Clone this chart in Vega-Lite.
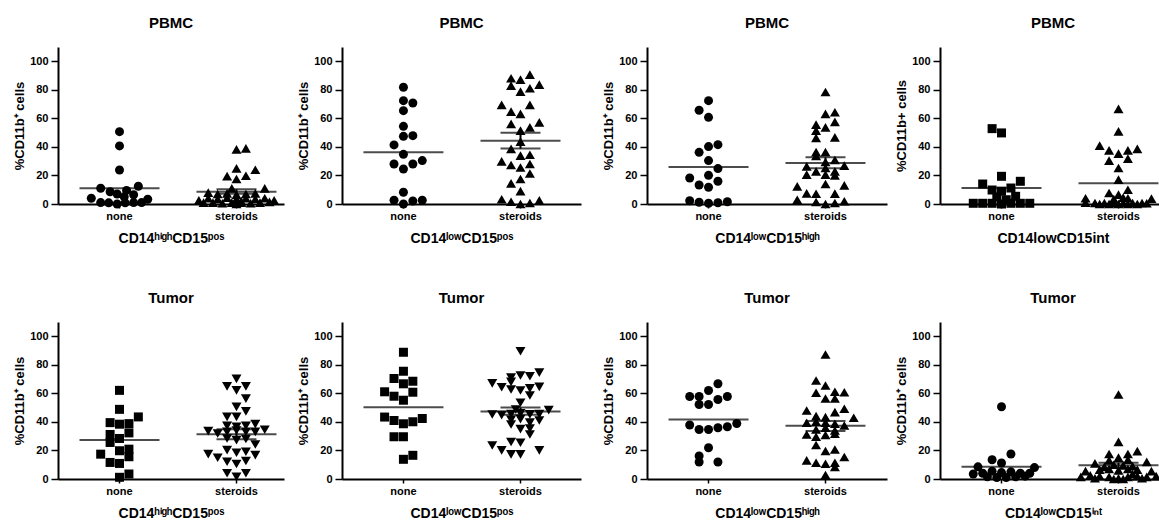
{
"$schema": "https://vega.github.io/schema/vega-lite/v6.json",
"padding": {"left": 13, "top": 16, "right": 0, "bottom": 0},
"config": {
  "view": {"stroke": null},
  "font": "Liberation Sans",
  "title": {"fontSize": 15, "font": "Liberation Sans", "fontWeight": "bold", "color": "black", "offset": 16, "anchor": "middle", "frame": "group"},
  "axis": {"domainColor": "black", "domainWidth": 2, "tickColor": "black", "tickWidth": 1.5, "labelFont": "Liberation Sans", "labelFontWeight": "bold", "labelColor": "black", "titleFont": "Liberation Sans", "titleColor": "black", "titleFontWeight": "bold", "grid": false, "labelOverlap": false},
  "axisX": {"labelAngle": 0, "labelFontSize": 11, "titleFontSize": 14, "tickSize": 4, "labelPadding": 2, "titlePadding": 10},
  "axisY": {"labelFontSize": 11, "titleFontSize": 13, "tickSize": 7, "labelPadding": 3, "titlePadding": 3, "tickCount": 6}
},
"datasets": {
"summ": [
{"panel":1,"group":"none","mean":11},{"panel":1,"group":"steroids","mean":8.6,"lo":7.1,"hi":10.3},
{"panel":2,"group":"none","mean":36.2},{"panel":2,"group":"steroids","mean":44.4,"lo":38.8,"hi":50},
{"panel":3,"group":"none","mean":25.9},{"panel":3,"group":"steroids","mean":28.8,"lo":25,"hi":32.7},
{"panel":4,"group":"none","mean":11.2},{"panel":4,"group":"steroids","mean":14.5},
{"panel":5,"group":"none","mean":27.4},{"panel":5,"group":"steroids","mean":31.4,"lo":27.9,"hi":34.9},
{"panel":6,"group":"none","mean":50.3},{"panel":6,"group":"steroids","mean":47.3,"lo":45,"hi":50.1},
{"panel":7,"group":"none","mean":41.7},{"panel":7,"group":"steroids","mean":37.3,"lo":33.6,"hi":40.6},
{"panel":8,"group":"none","mean":8.6},{"panel":8,"group":"steroids","mean":9.6,"lo":7.9,"hi":11.4}
],
"pts": [
{"panel":1,"group":"none","k":0,"value":50.7},{"panel":1,"group":"none","k":0,"value":40.7},{"panel":1,"group":"none","k":0,"value":23.8},{"panel":1,"group":"none","k":-4,"value":11},{"panel":1,"group":"none","k":4,"value":12.4},{"panel":1,"group":"none","k":-2,"value":8.6},{"panel":1,"group":"none","k":-0.5,"value":7},{"panel":1,"group":"none","k":1.5,"value":9.5},{"panel":1,"group":"none","k":1,"value":5},{"panel":1,"group":"none","k":3,"value":6.5},{"panel":1,"group":"none","k":-6,"value":4},{"panel":1,"group":"none","k":6,"value":3.3},{"panel":1,"group":"none","k":-4,"value":1},{"panel":1,"group":"none","k":-2.3,"value":0.8},{"panel":1,"group":"none","k":-0.5,"value":0},{"panel":1,"group":"none","k":1.2,"value":0.8},{"panel":1,"group":"none","k":3,"value":1},{"panel":1,"group":"none","k":4.7,"value":1},
{"panel":1,"group":"steroids","k":0,"value":38.3},{"panel":1,"group":"steroids","k":2,"value":39},{"panel":1,"group":"steroids","k":0,"value":25},{"panel":1,"group":"steroids","k":4,"value":24},{"panel":1,"group":"steroids","k":-2,"value":19.5},{"panel":1,"group":"steroids","k":2,"value":19.8},{"panel":1,"group":"steroids","k":0,"value":17.5},{"panel":1,"group":"steroids","k":-1,"value":11},{"panel":1,"group":"steroids","k":6,"value":11},{"panel":1,"group":"steroids","k":-6,"value":8},{"panel":1,"group":"steroids","k":-4,"value":7},{"panel":1,"group":"steroids","k":-2,"value":7.5},{"panel":1,"group":"steroids","k":0,"value":6.5},{"panel":1,"group":"steroids","k":2,"value":7},{"panel":1,"group":"steroids","k":4,"value":7.5},{"panel":1,"group":"steroids","k":-6,"value":4},{"panel":1,"group":"steroids","k":-4,"value":3.5},{"panel":1,"group":"steroids","k":-2,"value":4.5},{"panel":1,"group":"steroids","k":0,"value":3.5},{"panel":1,"group":"steroids","k":2,"value":4},{"panel":1,"group":"steroids","k":4,"value":3.5},{"panel":1,"group":"steroids","k":6,"value":4},{"panel":1,"group":"steroids","k":-7,"value":1},{"panel":1,"group":"steroids","k":-5,"value":1},{"panel":1,"group":"steroids","k":-3,"value":0.5},{"panel":1,"group":"steroids","k":-1,"value":1},{"panel":1,"group":"steroids","k":1,"value":1},{"panel":1,"group":"steroids","k":3,"value":0.5},{"panel":1,"group":"steroids","k":5,"value":1},{"panel":1,"group":"steroids","k":7,"value":1.5},{"panel":1,"group":"steroids","k":0,"value":0},{"panel":1,"group":"steroids","k":-8,"value":2.5},{"panel":1,"group":"steroids","k":8,"value":2.5},{"panel":1,"group":"steroids","k":1,"value":2},
{"panel":2,"group":"none","k":0,"value":81.8},{"panel":2,"group":"none","k":0,"value":72.4},{"panel":2,"group":"none","k":2,"value":70.8},{"panel":2,"group":"none","k":0,"value":65.4},{"panel":2,"group":"none","k":0,"value":54.4},{"panel":2,"group":"none","k":0,"value":47.4},{"panel":2,"group":"none","k":2,"value":47.9},{"panel":2,"group":"none","k":-2,"value":41.4},{"panel":2,"group":"none","k":0,"value":34.8},{"panel":2,"group":"none","k":-2,"value":28},{"panel":2,"group":"none","k":2,"value":28},{"panel":2,"group":"none","k":4,"value":30.4},{"panel":2,"group":"none","k":0,"value":24.5},{"panel":2,"group":"none","k":0,"value":8.2},{"panel":2,"group":"none","k":-2,"value":2.6},{"panel":2,"group":"none","k":2,"value":2.1},{"panel":2,"group":"none","k":4,"value":2.6},{"panel":2,"group":"none","k":0,"value":0},
{"panel":2,"group":"steroids","k":2,"value":90.7},{"panel":2,"group":"steroids","k":-2,"value":88.1},{"panel":2,"group":"steroids","k":0,"value":87.1},{"panel":2,"group":"steroids","k":4,"value":83.6},{"panel":2,"group":"steroids","k":-2,"value":82.9},{"panel":2,"group":"steroids","k":2,"value":81.1},{"panel":2,"group":"steroids","k":0,"value":78.7},{"panel":2,"group":"steroids","k":-4,"value":69.4},{"panel":2,"group":"steroids","k":2,"value":69.4},{"panel":2,"group":"steroids","k":-2,"value":64.7},{"panel":2,"group":"steroids","k":0,"value":63.1},{"panel":2,"group":"steroids","k":-2,"value":56.1},{"panel":2,"group":"steroids","k":4,"value":57.2},{"panel":2,"group":"steroids","k":2,"value":53.7},{"panel":2,"group":"steroids","k":0,"value":51.4},{"panel":2,"group":"steroids","k":0,"value":43.7},{"panel":2,"group":"steroids","k":-2,"value":38.6},{"panel":2,"group":"steroids","k":-4,"value":29.9},{"panel":2,"group":"steroids","k":-2,"value":27.3},{"panel":2,"group":"steroids","k":0,"value":33.9},{"panel":2,"group":"steroids","k":2,"value":34.5},{"panel":2,"group":"steroids","k":0,"value":25.6},{"panel":2,"group":"steroids","k":2,"value":28},{"panel":2,"group":"steroids","k":2,"value":21.4},{"panel":2,"group":"steroids","k":-2,"value":14.5},{"panel":2,"group":"steroids","k":0,"value":17.5},{"panel":2,"group":"steroids","k":0,"value":9},{"panel":2,"group":"steroids","k":-4,"value":3.3},{"panel":2,"group":"steroids","k":-2,"value":1.6},{"panel":2,"group":"steroids","k":0,"value":0},{"panel":2,"group":"steroids","k":2,"value":0.7},{"panel":2,"group":"steroids","k":4,"value":2.5},
{"panel":3,"group":"none","k":0,"value":72.4},{"panel":3,"group":"none","k":-2,"value":65.7},{"panel":3,"group":"none","k":0,"value":60.7},{"panel":3,"group":"none","k":2,"value":41.6},{"panel":3,"group":"none","k":0,"value":40.2},{"panel":3,"group":"none","k":-2,"value":36.2},{"panel":3,"group":"none","k":0,"value":30.4},{"panel":3,"group":"none","k":2,"value":24.8},{"panel":3,"group":"none","k":-4,"value":18.2},{"panel":3,"group":"none","k":0,"value":20.1},{"panel":3,"group":"none","k":2,"value":15.9},{"panel":3,"group":"none","k":-2,"value":13.3},{"panel":3,"group":"none","k":0,"value":11.7},{"panel":3,"group":"none","k":-4,"value":2.3},{"panel":3,"group":"none","k":-2,"value":1.2},{"panel":3,"group":"none","k":0,"value":0.5},{"panel":3,"group":"none","k":2,"value":0.9},{"panel":3,"group":"none","k":4,"value":1.6},
{"panel":3,"group":"steroids","k":0,"value":78.5},{"panel":3,"group":"steroids","k":0,"value":63.1},{"panel":3,"group":"steroids","k":2,"value":64.3},{"panel":3,"group":"steroids","k":-2,"value":55.6},{"panel":3,"group":"steroids","k":-2,"value":51.4},{"panel":3,"group":"steroids","k":0,"value":53.7},{"panel":3,"group":"steroids","k":2,"value":57.5},{"panel":3,"group":"steroids","k":-2,"value":46.3},{"panel":3,"group":"steroids","k":2,"value":46.7},{"panel":3,"group":"steroids","k":-2,"value":36.4},{"panel":3,"group":"steroids","k":0,"value":36.4},{"panel":3,"group":"steroids","k":-2,"value":33.6},{"panel":3,"group":"steroids","k":2,"value":30.8},{"panel":3,"group":"steroids","k":0,"value":29.4},{"panel":3,"group":"steroids","k":-4,"value":26.4},{"panel":3,"group":"steroids","k":4,"value":26.9},{"panel":3,"group":"steroids","k":-2,"value":22.9},{"panel":3,"group":"steroids","k":0,"value":25.2},{"panel":3,"group":"steroids","k":2,"value":22.9},{"panel":3,"group":"steroids","k":-4,"value":20.6},{"panel":3,"group":"steroids","k":0,"value":20.6},{"panel":3,"group":"steroids","k":2,"value":20},{"panel":3,"group":"steroids","k":-6,"value":12.4},{"panel":3,"group":"steroids","k":0,"value":14},{"panel":3,"group":"steroids","k":4,"value":13.1},{"panel":3,"group":"steroids","k":-4,"value":7.5},{"panel":3,"group":"steroids","k":-2,"value":7.2},{"panel":3,"group":"steroids","k":2,"value":7.3},{"panel":3,"group":"steroids","k":-6,"value":3},{"panel":3,"group":"steroids","k":-2,"value":1.4},{"panel":3,"group":"steroids","k":0,"value":0},{"panel":3,"group":"steroids","k":2,"value":0.7},{"panel":3,"group":"steroids","k":4,"value":1.9},
{"panel":4,"group":"none","k":-2,"value":52.8},{"panel":4,"group":"none","k":0,"value":49.8},{"panel":4,"group":"none","k":0,"value":19.4},{"panel":4,"group":"none","k":4,"value":15.9},{"panel":4,"group":"none","k":-4,"value":14},{"panel":4,"group":"none","k":-2,"value":9.8},{"panel":4,"group":"none","k":0,"value":9},{"panel":4,"group":"none","k":2,"value":11.2},{"panel":4,"group":"none","k":-1,"value":5},{"panel":4,"group":"none","k":1,"value":3},{"panel":4,"group":"none","k":3,"value":5.4},{"panel":4,"group":"none","k":-6,"value":0.5},{"panel":4,"group":"none","k":-4,"value":0.5},{"panel":4,"group":"none","k":-2,"value":0.5},{"panel":4,"group":"none","k":0,"value":0},{"panel":4,"group":"none","k":2,"value":0.5},{"panel":4,"group":"none","k":4,"value":0.5},{"panel":4,"group":"none","k":6,"value":0.5},
{"panel":4,"group":"steroids","k":0,"value":66.6},{"panel":4,"group":"steroids","k":0,"value":50.9},{"panel":4,"group":"steroids","k":-4,"value":40.9},{"panel":4,"group":"steroids","k":-2,"value":37.6},{"panel":4,"group":"steroids","k":0,"value":35.3},{"panel":4,"group":"steroids","k":2,"value":37.6},{"panel":4,"group":"steroids","k":4,"value":38.6},{"panel":4,"group":"steroids","k":-2,"value":30.4},{"panel":4,"group":"steroids","k":2,"value":31.8},{"panel":4,"group":"steroids","k":0,"value":25.2},{"panel":4,"group":"steroids","k":0,"value":17.1},{"panel":4,"group":"steroids","k":-2,"value":7.7},{"panel":4,"group":"steroids","k":0,"value":6.6},{"panel":4,"group":"steroids","k":2,"value":10},{"panel":4,"group":"steroids","k":2,"value":4},{"panel":4,"group":"steroids","k":-1,"value":3.5},{"panel":4,"group":"steroids","k":1,"value":4.5},{"panel":4,"group":"steroids","k":-7,"value":4},{"panel":4,"group":"steroids","k":7,"value":3.8},{"panel":4,"group":"steroids","k":-5,"value":0.7},{"panel":4,"group":"steroids","k":-3,"value":0.7},{"panel":4,"group":"steroids","k":-1,"value":0.7},{"panel":4,"group":"steroids","k":1,"value":0.7},{"panel":4,"group":"steroids","k":3,"value":0.7},{"panel":4,"group":"steroids","k":5,"value":0.7},{"panel":4,"group":"steroids","k":-4,"value":0},{"panel":4,"group":"steroids","k":0,"value":0},{"panel":4,"group":"steroids","k":4,"value":0},{"panel":4,"group":"steroids","k":6,"value":0.5},{"panel":4,"group":"steroids","k":-2,"value":0},{"panel":4,"group":"steroids","k":2,"value":0},{"panel":4,"group":"steroids","k":-7,"value":1},
{"panel":5,"group":"none","k":0,"value":62.1},{"panel":5,"group":"none","k":0,"value":48.8},{"panel":5,"group":"none","k":4,"value":43.5},{"panel":5,"group":"none","k":-2,"value":39.5},{"panel":5,"group":"none","k":2,"value":38.8},{"panel":5,"group":"none","k":0,"value":38.4},{"panel":5,"group":"none","k":2,"value":32.3},{"panel":5,"group":"none","k":-2,"value":31.2},{"panel":5,"group":"none","k":0,"value":28.4},{"panel":5,"group":"none","k":-2,"value":25.6},{"panel":5,"group":"none","k":-4,"value":17.4},{"panel":5,"group":"none","k":0,"value":19.8},{"panel":5,"group":"none","k":2,"value":20.9},{"panel":5,"group":"none","k":2,"value":15.6},{"panel":5,"group":"none","k":-2,"value":11.6},{"panel":5,"group":"none","k":0,"value":10.9},{"panel":5,"group":"none","k":2,"value":3.5},{"panel":5,"group":"none","k":0,"value":1.2},
{"panel":5,"group":"steroids","k":0,"value":70.2},{"panel":5,"group":"steroids","k":-2,"value":64.9},{"panel":5,"group":"steroids","k":2,"value":64.9},{"panel":5,"group":"steroids","k":0,"value":62.1},{"panel":5,"group":"steroids","k":2,"value":56.3},{"panel":5,"group":"steroids","k":0,"value":50.5},{"panel":5,"group":"steroids","k":2,"value":47.4},{"panel":5,"group":"steroids","k":-2,"value":43.5},{"panel":5,"group":"steroids","k":0,"value":43.5},{"panel":5,"group":"steroids","k":4,"value":38.4},{"panel":5,"group":"steroids","k":-2,"value":37.2},{"panel":5,"group":"steroids","k":2,"value":37.2},{"panel":5,"group":"steroids","k":0,"value":36.5},{"panel":5,"group":"steroids","k":-6,"value":33.5},{"panel":5,"group":"steroids","k":-2,"value":33},{"panel":5,"group":"steroids","k":0,"value":34},{"panel":5,"group":"steroids","k":2,"value":33},{"panel":5,"group":"steroids","k":4,"value":33},{"panel":5,"group":"steroids","k":6,"value":34.5},{"panel":5,"group":"steroids","k":-4,"value":31.9},{"panel":5,"group":"steroids","k":-2,"value":28.4},{"panel":5,"group":"steroids","k":0,"value":27.2},{"panel":5,"group":"steroids","k":2,"value":28},{"panel":5,"group":"steroids","k":4,"value":24.2},{"panel":5,"group":"steroids","k":-6,"value":17.4},{"panel":5,"group":"steroids","k":-4,"value":14.9},{"panel":5,"group":"steroids","k":-2,"value":20.2},{"panel":5,"group":"steroids","k":0,"value":18.4},{"panel":5,"group":"steroids","k":2,"value":19.1},{"panel":5,"group":"steroids","k":4,"value":16.7},{"panel":5,"group":"steroids","k":-2,"value":12.1},{"panel":5,"group":"steroids","k":0,"value":10.5},{"panel":5,"group":"steroids","k":2,"value":12.6},{"panel":5,"group":"steroids","k":-2,"value":4},{"panel":5,"group":"steroids","k":2,"value":4},{"panel":5,"group":"steroids","k":0,"value":1.6},
{"panel":6,"group":"none","k":0,"value":88.8},{"panel":6,"group":"none","k":0,"value":75.5},{"panel":6,"group":"none","k":-2,"value":70.4},{"panel":6,"group":"none","k":2,"value":68.5},{"panel":6,"group":"none","k":0,"value":66.7},{"panel":6,"group":"none","k":-4,"value":61.1},{"panel":6,"group":"none","k":2,"value":60.8},{"panel":6,"group":"none","k":-2,"value":58},{"panel":6,"group":"none","k":0,"value":55.2},{"panel":6,"group":"none","k":-4,"value":43.4},{"panel":6,"group":"none","k":4,"value":42.4},{"panel":6,"group":"none","k":-2,"value":41},{"panel":6,"group":"none","k":2,"value":40.1},{"panel":6,"group":"none","k":0,"value":38.7},{"panel":6,"group":"none","k":-2,"value":29.6},{"panel":6,"group":"none","k":0,"value":29.6},{"panel":6,"group":"none","k":2,"value":16.6},{"panel":6,"group":"none","k":0,"value":13.8},
{"panel":6,"group":"steroids","k":0,"value":89.5},{"panel":6,"group":"steroids","k":-2,"value":71},{"panel":6,"group":"steroids","k":0,"value":72.5},{"panel":6,"group":"steroids","k":2,"value":72},{"panel":6,"group":"steroids","k":4,"value":74.5},{"panel":6,"group":"steroids","k":-6,"value":67},{"panel":6,"group":"steroids","k":-2,"value":68},{"panel":6,"group":"steroids","k":-4,"value":64.3},{"panel":6,"group":"steroids","k":4,"value":64.6},{"panel":6,"group":"steroids","k":-2,"value":62.7},{"panel":6,"group":"steroids","k":0,"value":62},{"panel":6,"group":"steroids","k":2,"value":63.5},{"panel":6,"group":"steroids","k":2,"value":58.5},{"panel":6,"group":"steroids","k":0,"value":53.4},{"panel":6,"group":"steroids","k":-1,"value":48.7},{"panel":6,"group":"steroids","k":6,"value":48.3},{"panel":6,"group":"steroids","k":-6,"value":45.2},{"panel":6,"group":"steroids","k":-4,"value":44.8},{"panel":6,"group":"steroids","k":-2,"value":45.5},{"panel":6,"group":"steroids","k":0,"value":46},{"panel":6,"group":"steroids","k":2,"value":45.3},{"panel":6,"group":"steroids","k":4,"value":45.5},{"panel":6,"group":"steroids","k":-2,"value":41.5},{"panel":6,"group":"steroids","k":0,"value":42},{"panel":6,"group":"steroids","k":4,"value":41},{"panel":6,"group":"steroids","k":-2,"value":38.2},{"panel":6,"group":"steroids","k":2,"value":39.5},{"panel":6,"group":"steroids","k":0,"value":35},{"panel":6,"group":"steroids","k":2,"value":35.4},{"panel":6,"group":"steroids","k":2,"value":31.2},{"panel":6,"group":"steroids","k":-6,"value":23.5},{"panel":6,"group":"steroids","k":-2,"value":25.9},{"panel":6,"group":"steroids","k":0,"value":25.4},{"panel":6,"group":"steroids","k":-4,"value":20},{"panel":6,"group":"steroids","k":-2,"value":17.2},{"panel":6,"group":"steroids","k":0,"value":17.2},{"panel":6,"group":"steroids","k":4,"value":20},
{"panel":7,"group":"none","k":2,"value":66.7},{"panel":7,"group":"none","k":0,"value":62},{"panel":7,"group":"none","k":-4,"value":57.8},{"panel":7,"group":"none","k":-2,"value":57.8},{"panel":7,"group":"none","k":4,"value":57.8},{"panel":7,"group":"none","k":2,"value":55.7},{"panel":7,"group":"none","k":-2,"value":52.2},{"panel":7,"group":"none","k":0,"value":52.2},{"panel":7,"group":"none","k":6,"value":38.9},{"panel":7,"group":"none","k":-4,"value":37.8},{"panel":7,"group":"none","k":-2,"value":34.7},{"panel":7,"group":"none","k":0,"value":34.7},{"panel":7,"group":"none","k":2,"value":35.9},{"panel":7,"group":"none","k":4,"value":36.6},{"panel":7,"group":"none","k":0,"value":21.9},{"panel":7,"group":"none","k":-2,"value":16.1},{"panel":7,"group":"none","k":-2,"value":11.9},{"panel":7,"group":"none","k":2,"value":11.9},
{"panel":7,"group":"steroids","k":0,"value":87.2},{"panel":7,"group":"steroids","k":-2,"value":69},{"panel":7,"group":"steroids","k":0,"value":65.5},{"panel":7,"group":"steroids","k":-2,"value":60.4},{"panel":7,"group":"steroids","k":2,"value":61.1},{"panel":7,"group":"steroids","k":4,"value":60.8},{"panel":7,"group":"steroids","k":0,"value":56.4},{"panel":7,"group":"steroids","k":2,"value":56.4},{"panel":7,"group":"steroids","k":-4,"value":48},{"panel":7,"group":"steroids","k":4,"value":49.2},{"panel":7,"group":"steroids","k":2,"value":46.9},{"panel":7,"group":"steroids","k":-2,"value":44},{"panel":7,"group":"steroids","k":0,"value":43.4},{"panel":7,"group":"steroids","k":6,"value":42.9},{"panel":7,"group":"steroids","k":-4,"value":39.4},{"panel":7,"group":"steroids","k":-2,"value":40.1},{"panel":7,"group":"steroids","k":0,"value":39.4},{"panel":7,"group":"steroids","k":2,"value":38.7},{"panel":7,"group":"steroids","k":4,"value":37.5},{"panel":7,"group":"steroids","k":-2,"value":34.7},{"panel":7,"group":"steroids","k":0,"value":35.9},{"panel":7,"group":"steroids","k":2,"value":34},{"panel":7,"group":"steroids","k":-4,"value":31.2},{"panel":7,"group":"steroids","k":-2,"value":29.6},{"panel":7,"group":"steroids","k":0,"value":30.8},{"panel":7,"group":"steroids","k":2,"value":31.7},{"panel":7,"group":"steroids","k":-2,"value":23.8},{"panel":7,"group":"steroids","k":0,"value":19.6},{"panel":7,"group":"steroids","k":2,"value":20.7},{"panel":7,"group":"steroids","k":-4,"value":13.1},{"panel":7,"group":"steroids","k":-2,"value":11.4},{"panel":7,"group":"steroids","k":0,"value":10.7},{"panel":7,"group":"steroids","k":2,"value":11.4},{"panel":7,"group":"steroids","k":4,"value":15.4},{"panel":7,"group":"steroids","k":2,"value":8.4},{"panel":7,"group":"steroids","k":0,"value":2.8},
{"panel":8,"group":"none","k":0,"value":50.6},{"panel":8,"group":"none","k":2,"value":17.5},{"panel":8,"group":"none","k":-2,"value":13.5},{"panel":8,"group":"none","k":0,"value":11.2},{"panel":8,"group":"none","k":-5,"value":8.5},{"panel":8,"group":"none","k":7,"value":8},{"panel":8,"group":"none","k":-4,"value":4},{"panel":8,"group":"none","k":-2,"value":5.5},{"panel":8,"group":"none","k":0,"value":4.5},{"panel":8,"group":"none","k":2,"value":5},{"panel":8,"group":"none","k":4,"value":4},{"panel":8,"group":"none","k":6,"value":4},{"panel":8,"group":"none","k":-6,"value":3.5},{"panel":8,"group":"none","k":-3,"value":1.5},{"panel":8,"group":"none","k":-1,"value":1},{"panel":8,"group":"none","k":1,"value":1},{"panel":8,"group":"none","k":3,"value":1.5},{"panel":8,"group":"none","k":5,"value":2},
{"panel":8,"group":"steroids","k":0,"value":59.2},{"panel":8,"group":"steroids","k":0,"value":26},{"panel":8,"group":"steroids","k":-2,"value":17.5},{"panel":8,"group":"steroids","k":2,"value":17.5},{"panel":8,"group":"steroids","k":4,"value":19.5},{"panel":8,"group":"steroids","k":0,"value":15},{"panel":8,"group":"steroids","k":-2,"value":13},{"panel":8,"group":"steroids","k":2,"value":13.5},{"panel":8,"group":"steroids","k":-5,"value":11},{"panel":8,"group":"steroids","k":6,"value":12},{"panel":8,"group":"steroids","k":-1,"value":10},{"panel":8,"group":"steroids","k":1,"value":9.5},{"panel":8,"group":"steroids","k":3,"value":9},{"panel":8,"group":"steroids","k":-3,"value":8.5},{"panel":8,"group":"steroids","k":-7,"value":5.5},{"panel":8,"group":"steroids","k":7,"value":5.5},{"panel":8,"group":"steroids","k":-4,"value":6.5},{"panel":8,"group":"steroids","k":-2,"value":7},{"panel":8,"group":"steroids","k":0,"value":6},{"panel":8,"group":"steroids","k":2,"value":7},{"panel":8,"group":"steroids","k":4,"value":6.5},{"panel":8,"group":"steroids","k":-6,"value":2.5},{"panel":8,"group":"steroids","k":-8,"value":1.5},{"panel":8,"group":"steroids","k":-4,"value":2},{"panel":8,"group":"steroids","k":-2,"value":1.5},{"panel":8,"group":"steroids","k":0,"value":0.5},{"panel":8,"group":"steroids","k":2,"value":1.5},{"panel":8,"group":"steroids","k":4,"value":2},{"panel":8,"group":"steroids","k":6,"value":1.5},{"panel":8,"group":"steroids","k":8,"value":2},{"panel":8,"group":"steroids","k":-5,"value":0.5},{"panel":8,"group":"steroids","k":-1,"value":0},{"panel":8,"group":"steroids","k":1,"value":0},{"panel":8,"group":"steroids","k":5,"value":0.5},{"panel":8,"group":"steroids","k":3,"value":3.5}
]
},
"spacing": 13,
"hconcat": [
{"vconcat": [
 {"width": 226, "height": 157, "title": "PBMC", "layer": [
  {"data": {"name": "pts"}, "transform": [{"filter": "datum.panel == 1"}], "mark": {"type": "point", "filled": true, "color": "black", "opacity": 1, "strokeWidth": 0},
   "encoding": {"x": {"field": "group", "type": "nominal", "scale": {"domain": ["none", "steroids"], "paddingInner": 0.3, "paddingOuter": 0.116, "align": 0.758}, "axis": {"title": "CD14ʰⁱᵍʰCD15ᵖᵒˢ"}},
    "xOffset": {"field": "k", "type": "quantitative", "scale": {"domain": [-8.7, 8.7], "nice": false, "zero": false}},
    "y": {"field": "value", "type": "quantitative", "scale": {"domain": [0, 110], "nice": false}, "axis": {"title": "%CD11b⁺ cells", "values": [0, 20, 40, 60, 80, 100]}},
    "shape": {"condition": {"test": "datum.group == 'none'", "value": "circle"}, "value": "triangle-up"},
    "size": {"condition": {"test": "datum.group == 'none'", "value": 81}, "value": 100}}},
  {"data": {"name": "summ"}, "transform": [{"filter": "datum.panel == 1"}], "mark": {"type": "tick", "size": 80, "thickness": 2, "color": "black"}, "encoding": {"x": {"field": "group", "type": "nominal", "axis": {"title": "CD14ʰⁱᵍʰCD15ᵖᵒˢ"}}, "y": {"field": "mean", "type": "quantitative", "axis": {"title": "%CD11b⁺ cells", "values": [0, 20, 40, 60, 80, 100]}}}},
  {"data": {"name": "summ"}, "transform": [{"filter": "datum.panel == 1 && isValid(datum.lo)"}], "mark": {"type": "rule", "strokeWidth": 2, "color": "black"}, "encoding": {"x": {"field": "group", "type": "nominal", "axis": {"title": "CD14ʰⁱᵍʰCD15ᵖᵒˢ"}}, "y": {"field": "lo", "type": "quantitative", "axis": {"title": "%CD11b⁺ cells", "values": [0, 20, 40, 60, 80, 100]}}, "y2": {"field": "hi"}}},
  {"data": {"name": "summ"}, "transform": [{"filter": "datum.panel == 1 && isValid(datum.lo)"}], "mark": {"type": "tick", "size": 40, "thickness": 2, "color": "black"}, "encoding": {"x": {"field": "group", "type": "nominal", "axis": {"title": "CD14ʰⁱᵍʰCD15ᵖᵒˢ"}}, "y": {"field": "lo", "type": "quantitative", "axis": {"title": "%CD11b⁺ cells", "values": [0, 20, 40, 60, 80, 100]}}}},
  {"data": {"name": "summ"}, "transform": [{"filter": "datum.panel == 1 && isValid(datum.lo)"}], "mark": {"type": "tick", "size": 40, "thickness": 2, "color": "black"}, "encoding": {"x": {"field": "group", "type": "nominal", "axis": {"title": "CD14ʰⁱᵍʰCD15ᵖᵒˢ"}}, "y": {"field": "hi", "type": "quantitative", "axis": {"title": "%CD11b⁺ cells", "values": [0, 20, 40, 60, 80, 100]}}}}
 ]},
 {"width": 226, "height": 157, "title": "Tumor", "layer": [
  {"data": {"name": "pts"}, "transform": [{"filter": "datum.panel == 5"}], "mark": {"type": "point", "filled": true, "color": "black", "opacity": 1, "strokeWidth": 0},
   "encoding": {"x": {"field": "group", "type": "nominal", "scale": {"domain": ["none", "steroids"], "paddingInner": 0.3, "paddingOuter": 0.116, "align": 0.758}, "axis": {"title": "CD14ʰⁱᵍʰCD15ᵖᵒˢ"}},
    "xOffset": {"field": "k", "type": "quantitative", "scale": {"domain": [-8.7, 8.7], "nice": false, "zero": false}},
    "y": {"field": "value", "type": "quantitative", "scale": {"domain": [0, 110], "nice": false}, "axis": {"title": "%CD11b⁺ cells", "values": [0, 20, 40, 60, 80, 100]}},
    "shape": {"condition": {"test": "datum.group == 'none'", "value": "square"}, "value": "triangle-down"},
    "size": {"condition": {"test": "datum.group == 'none'", "value": 81}, "value": 100}}},
  {"data": {"name": "summ"}, "transform": [{"filter": "datum.panel == 5"}], "mark": {"type": "tick", "size": 80, "thickness": 2, "color": "black"}, "encoding": {"x": {"field": "group", "type": "nominal", "axis": {"title": "CD14ʰⁱᵍʰCD15ᵖᵒˢ"}}, "y": {"field": "mean", "type": "quantitative", "axis": {"title": "%CD11b⁺ cells", "values": [0, 20, 40, 60, 80, 100]}}}},
  {"data": {"name": "summ"}, "transform": [{"filter": "datum.panel == 5 && isValid(datum.lo)"}], "mark": {"type": "rule", "strokeWidth": 2, "color": "black"}, "encoding": {"x": {"field": "group", "type": "nominal", "axis": {"title": "CD14ʰⁱᵍʰCD15ᵖᵒˢ"}}, "y": {"field": "lo", "type": "quantitative", "axis": {"title": "%CD11b⁺ cells", "values": [0, 20, 40, 60, 80, 100]}}, "y2": {"field": "hi"}}},
  {"data": {"name": "summ"}, "transform": [{"filter": "datum.panel == 5 && isValid(datum.lo)"}], "mark": {"type": "tick", "size": 40, "thickness": 2, "color": "black"}, "encoding": {"x": {"field": "group", "type": "nominal", "axis": {"title": "CD14ʰⁱᵍʰCD15ᵖᵒˢ"}}, "y": {"field": "lo", "type": "quantitative", "axis": {"title": "%CD11b⁺ cells", "values": [0, 20, 40, 60, 80, 100]}}}},
  {"data": {"name": "summ"}, "transform": [{"filter": "datum.panel == 5 && isValid(datum.lo)"}], "mark": {"type": "tick", "size": 40, "thickness": 2, "color": "black"}, "encoding": {"x": {"field": "group", "type": "nominal", "axis": {"title": "CD14ʰⁱᵍʰCD15ᵖᵒˢ"}}, "y": {"field": "hi", "type": "quantitative", "axis": {"title": "%CD11b⁺ cells", "values": [0, 20, 40, 60, 80, 100]}}}}
 ]}
], "spacing": 46},
{"spacing": 21, "hconcat": [
{"vconcat": [
 {"width": 239, "height": 157, "title": "PBMC", "layer": [
  {"data": {"name": "pts"}, "transform": [{"filter": "datum.panel == 2"}], "mark": {"type": "point", "filled": true, "color": "black", "opacity": 1, "strokeWidth": 0},
   "encoding": {"x": {"field": "group", "type": "nominal", "scale": {"domain": ["none", "steroids"], "paddingInner": 0.3, "paddingOuter": 0.171, "align": 0.512}, "axis": {"title": "CD14ˡᵒʷCD15ᵖᵒˢ"}},
    "xOffset": {"field": "k", "type": "quantitative", "scale": {"domain": [-8.7, 8.7], "nice": false, "zero": false}},
    "y": {"field": "value", "type": "quantitative", "scale": {"domain": [0, 110], "nice": false}, "axis": {"title": "%CD11b⁺ cells", "values": [0, 20, 40, 60, 80, 100]}},
    "shape": {"condition": {"test": "datum.group == 'none'", "value": "circle"}, "value": "triangle-up"},
    "size": {"condition": {"test": "datum.group == 'none'", "value": 81}, "value": 100}}},
  {"data": {"name": "summ"}, "transform": [{"filter": "datum.panel == 2"}], "mark": {"type": "tick", "size": 80, "thickness": 2, "color": "black"}, "encoding": {"x": {"field": "group", "type": "nominal", "axis": {"title": "CD14ˡᵒʷCD15ᵖᵒˢ"}}, "y": {"field": "mean", "type": "quantitative", "axis": {"title": "%CD11b⁺ cells", "values": [0, 20, 40, 60, 80, 100]}}}},
  {"data": {"name": "summ"}, "transform": [{"filter": "datum.panel == 2 && isValid(datum.lo)"}], "mark": {"type": "rule", "strokeWidth": 2, "color": "black"}, "encoding": {"x": {"field": "group", "type": "nominal", "axis": {"title": "CD14ˡᵒʷCD15ᵖᵒˢ"}}, "y": {"field": "lo", "type": "quantitative", "axis": {"title": "%CD11b⁺ cells", "values": [0, 20, 40, 60, 80, 100]}}, "y2": {"field": "hi"}}},
  {"data": {"name": "summ"}, "transform": [{"filter": "datum.panel == 2 && isValid(datum.lo)"}], "mark": {"type": "tick", "size": 40, "thickness": 2, "color": "black"}, "encoding": {"x": {"field": "group", "type": "nominal", "axis": {"title": "CD14ˡᵒʷCD15ᵖᵒˢ"}}, "y": {"field": "lo", "type": "quantitative", "axis": {"title": "%CD11b⁺ cells", "values": [0, 20, 40, 60, 80, 100]}}}},
  {"data": {"name": "summ"}, "transform": [{"filter": "datum.panel == 2 && isValid(datum.lo)"}], "mark": {"type": "tick", "size": 40, "thickness": 2, "color": "black"}, "encoding": {"x": {"field": "group", "type": "nominal", "axis": {"title": "CD14ˡᵒʷCD15ᵖᵒˢ"}}, "y": {"field": "hi", "type": "quantitative", "axis": {"title": "%CD11b⁺ cells", "values": [0, 20, 40, 60, 80, 100]}}}}
 ]},
 {"width": 239, "height": 157, "title": "Tumor", "layer": [
  {"data": {"name": "pts"}, "transform": [{"filter": "datum.panel == 6"}], "mark": {"type": "point", "filled": true, "color": "black", "opacity": 1, "strokeWidth": 0},
   "encoding": {"x": {"field": "group", "type": "nominal", "scale": {"domain": ["none", "steroids"], "paddingInner": 0.3, "paddingOuter": 0.171, "align": 0.512}, "axis": {"title": "CD14ˡᵒʷCD15ᵖᵒˢ"}},
    "xOffset": {"field": "k", "type": "quantitative", "scale": {"domain": [-8.7, 8.7], "nice": false, "zero": false}},
    "y": {"field": "value", "type": "quantitative", "scale": {"domain": [0, 110], "nice": false}, "axis": {"title": "%CD11b⁺ cells", "values": [0, 20, 40, 60, 80, 100]}},
    "shape": {"condition": {"test": "datum.group == 'none'", "value": "square"}, "value": "triangle-down"},
    "size": {"condition": {"test": "datum.group == 'none'", "value": 81}, "value": 100}}},
  {"data": {"name": "summ"}, "transform": [{"filter": "datum.panel == 6"}], "mark": {"type": "tick", "size": 80, "thickness": 2, "color": "black"}, "encoding": {"x": {"field": "group", "type": "nominal", "axis": {"title": "CD14ˡᵒʷCD15ᵖᵒˢ"}}, "y": {"field": "mean", "type": "quantitative", "axis": {"title": "%CD11b⁺ cells", "values": [0, 20, 40, 60, 80, 100]}}}},
  {"data": {"name": "summ"}, "transform": [{"filter": "datum.panel == 6 && isValid(datum.lo)"}], "mark": {"type": "rule", "strokeWidth": 2, "color": "black"}, "encoding": {"x": {"field": "group", "type": "nominal", "axis": {"title": "CD14ˡᵒʷCD15ᵖᵒˢ"}}, "y": {"field": "lo", "type": "quantitative", "axis": {"title": "%CD11b⁺ cells", "values": [0, 20, 40, 60, 80, 100]}}, "y2": {"field": "hi"}}},
  {"data": {"name": "summ"}, "transform": [{"filter": "datum.panel == 6 && isValid(datum.lo)"}], "mark": {"type": "tick", "size": 40, "thickness": 2, "color": "black"}, "encoding": {"x": {"field": "group", "type": "nominal", "axis": {"title": "CD14ˡᵒʷCD15ᵖᵒˢ"}}, "y": {"field": "lo", "type": "quantitative", "axis": {"title": "%CD11b⁺ cells", "values": [0, 20, 40, 60, 80, 100]}}}},
  {"data": {"name": "summ"}, "transform": [{"filter": "datum.panel == 6 && isValid(datum.lo)"}], "mark": {"type": "tick", "size": 40, "thickness": 2, "color": "black"}, "encoding": {"x": {"field": "group", "type": "nominal", "axis": {"title": "CD14ˡᵒʷCD15ᵖᵒˢ"}}, "y": {"field": "hi", "type": "quantitative", "axis": {"title": "%CD11b⁺ cells", "values": [0, 20, 40, 60, 80, 100]}}}}
 ]}
], "spacing": 46},
{"spacing": 8, "hconcat": [
{"vconcat": [
 {"width": 240, "height": 157, "title": "PBMC", "layer": [
  {"data": {"name": "pts"}, "transform": [{"filter": "datum.panel == 3"}], "mark": {"type": "point", "filled": true, "color": "black", "opacity": 1, "strokeWidth": 0},
   "encoding": {"x": {"field": "group", "type": "nominal", "scale": {"domain": ["none", "steroids"], "paddingInner": 0.3, "paddingOuter": 0.176, "align": 0.5}, "axis": {"title": "CD14ˡᵒʷCD15ʰⁱᵍʰ"}},
    "xOffset": {"field": "k", "type": "quantitative", "scale": {"domain": [-8.7, 8.7], "nice": false, "zero": false}},
    "y": {"field": "value", "type": "quantitative", "scale": {"domain": [0, 110], "nice": false}, "axis": {"title": "%CD11b⁺ cells", "values": [0, 20, 40, 60, 80, 100]}},
    "shape": {"condition": {"test": "datum.group == 'none'", "value": "circle"}, "value": "triangle-up"},
    "size": {"condition": {"test": "datum.group == 'none'", "value": 81}, "value": 100}}},
  {"data": {"name": "summ"}, "transform": [{"filter": "datum.panel == 3"}], "mark": {"type": "tick", "size": 80, "thickness": 2, "color": "black"}, "encoding": {"x": {"field": "group", "type": "nominal", "axis": {"title": "CD14ˡᵒʷCD15ʰⁱᵍʰ"}}, "y": {"field": "mean", "type": "quantitative", "axis": {"title": "%CD11b⁺ cells", "values": [0, 20, 40, 60, 80, 100]}}}},
  {"data": {"name": "summ"}, "transform": [{"filter": "datum.panel == 3 && isValid(datum.lo)"}], "mark": {"type": "rule", "strokeWidth": 2, "color": "black"}, "encoding": {"x": {"field": "group", "type": "nominal", "axis": {"title": "CD14ˡᵒʷCD15ʰⁱᵍʰ"}}, "y": {"field": "lo", "type": "quantitative", "axis": {"title": "%CD11b⁺ cells", "values": [0, 20, 40, 60, 80, 100]}}, "y2": {"field": "hi"}}},
  {"data": {"name": "summ"}, "transform": [{"filter": "datum.panel == 3 && isValid(datum.lo)"}], "mark": {"type": "tick", "size": 40, "thickness": 2, "color": "black"}, "encoding": {"x": {"field": "group", "type": "nominal", "axis": {"title": "CD14ˡᵒʷCD15ʰⁱᵍʰ"}}, "y": {"field": "lo", "type": "quantitative", "axis": {"title": "%CD11b⁺ cells", "values": [0, 20, 40, 60, 80, 100]}}}},
  {"data": {"name": "summ"}, "transform": [{"filter": "datum.panel == 3 && isValid(datum.lo)"}], "mark": {"type": "tick", "size": 40, "thickness": 2, "color": "black"}, "encoding": {"x": {"field": "group", "type": "nominal", "axis": {"title": "CD14ˡᵒʷCD15ʰⁱᵍʰ"}}, "y": {"field": "hi", "type": "quantitative", "axis": {"title": "%CD11b⁺ cells", "values": [0, 20, 40, 60, 80, 100]}}}}
 ]},
 {"width": 240, "height": 157, "title": "Tumor", "layer": [
  {"data": {"name": "pts"}, "transform": [{"filter": "datum.panel == 7"}], "mark": {"type": "point", "filled": true, "color": "black", "opacity": 1, "strokeWidth": 0},
   "encoding": {"x": {"field": "group", "type": "nominal", "scale": {"domain": ["none", "steroids"], "paddingInner": 0.3, "paddingOuter": 0.176, "align": 0.5}, "axis": {"title": "CD14ˡᵒʷCD15ʰⁱᵍʰ"}},
    "xOffset": {"field": "k", "type": "quantitative", "scale": {"domain": [-8.7, 8.7], "nice": false, "zero": false}},
    "y": {"field": "value", "type": "quantitative", "scale": {"domain": [0, 110], "nice": false}, "axis": {"title": "%CD11b⁺ cells", "values": [0, 20, 40, 60, 80, 100]}},
    "shape": {"condition": {"test": "datum.group == 'none'", "value": "circle"}, "value": "triangle-up"},
    "size": {"condition": {"test": "datum.group == 'none'", "value": 81}, "value": 100}}},
  {"data": {"name": "summ"}, "transform": [{"filter": "datum.panel == 7"}], "mark": {"type": "tick", "size": 80, "thickness": 2, "color": "black"}, "encoding": {"x": {"field": "group", "type": "nominal", "axis": {"title": "CD14ˡᵒʷCD15ʰⁱᵍʰ"}}, "y": {"field": "mean", "type": "quantitative", "axis": {"title": "%CD11b⁺ cells", "values": [0, 20, 40, 60, 80, 100]}}}},
  {"data": {"name": "summ"}, "transform": [{"filter": "datum.panel == 7 && isValid(datum.lo)"}], "mark": {"type": "rule", "strokeWidth": 2, "color": "black"}, "encoding": {"x": {"field": "group", "type": "nominal", "axis": {"title": "CD14ˡᵒʷCD15ʰⁱᵍʰ"}}, "y": {"field": "lo", "type": "quantitative", "axis": {"title": "%CD11b⁺ cells", "values": [0, 20, 40, 60, 80, 100]}}, "y2": {"field": "hi"}}},
  {"data": {"name": "summ"}, "transform": [{"filter": "datum.panel == 7 && isValid(datum.lo)"}], "mark": {"type": "tick", "size": 40, "thickness": 2, "color": "black"}, "encoding": {"x": {"field": "group", "type": "nominal", "axis": {"title": "CD14ˡᵒʷCD15ʰⁱᵍʰ"}}, "y": {"field": "lo", "type": "quantitative", "axis": {"title": "%CD11b⁺ cells", "values": [0, 20, 40, 60, 80, 100]}}}},
  {"data": {"name": "summ"}, "transform": [{"filter": "datum.panel == 7 && isValid(datum.lo)"}], "mark": {"type": "tick", "size": 40, "thickness": 2, "color": "black"}, "encoding": {"x": {"field": "group", "type": "nominal", "axis": {"title": "CD14ˡᵒʷCD15ʰⁱᵍʰ"}}, "y": {"field": "hi", "type": "quantitative", "axis": {"title": "%CD11b⁺ cells", "values": [0, 20, 40, 60, 80, 100]}}}}
 ]}
], "spacing": 46},
{"vconcat": [
 {"width": 226, "height": 157, "title": "PBMC", "layer": [
  {"data": {"name": "pts"}, "transform": [{"filter": "datum.panel == 4"}], "mark": {"type": "point", "filled": true, "color": "black", "opacity": 1, "strokeWidth": 0},
   "encoding": {"x": {"field": "group", "type": "nominal", "scale": {"domain": ["none", "steroids"], "paddingInner": 0.3, "paddingOuter": 0.116, "align": 0.758}, "axis": {"title": "CD14lowCD15int"}},
    "xOffset": {"field": "k", "type": "quantitative", "scale": {"domain": [-8.7, 8.7], "nice": false, "zero": false}},
    "y": {"field": "value", "type": "quantitative", "scale": {"domain": [0, 110], "nice": false}, "axis": {"title": "%CD11b+ cells", "values": [0, 20, 40, 60, 80, 100]}},
    "shape": {"condition": {"test": "datum.group == 'none'", "value": "square"}, "value": "triangle-up"},
    "size": {"condition": {"test": "datum.group == 'none'", "value": 81}, "value": 100}}},
  {"data": {"name": "summ"}, "transform": [{"filter": "datum.panel == 4"}], "mark": {"type": "tick", "size": 80, "thickness": 2, "color": "black"}, "encoding": {"x": {"field": "group", "type": "nominal", "axis": {"title": "CD14lowCD15int"}}, "y": {"field": "mean", "type": "quantitative", "axis": {"title": "%CD11b+ cells", "values": [0, 20, 40, 60, 80, 100]}}}}
 ]},
 {"width": 226, "height": 157, "title": "Tumor", "layer": [
  {"data": {"name": "pts"}, "transform": [{"filter": "datum.panel == 8"}], "mark": {"type": "point", "filled": true, "color": "black", "opacity": 1, "strokeWidth": 0},
   "encoding": {"x": {"field": "group", "type": "nominal", "scale": {"domain": ["none", "steroids"], "paddingInner": 0.3, "paddingOuter": 0.116, "align": 0.758}, "axis": {"title": "CD14ˡᵒʷCD15ⁱⁿᵗ"}},
    "xOffset": {"field": "k", "type": "quantitative", "scale": {"domain": [-8.7, 8.7], "nice": false, "zero": false}},
    "y": {"field": "value", "type": "quantitative", "scale": {"domain": [0, 110], "nice": false}, "axis": {"title": "%CD11b⁺ cells", "values": [0, 20, 40, 60, 80, 100]}},
    "shape": {"condition": {"test": "datum.group == 'none'", "value": "circle"}, "value": "triangle-up"},
    "size": {"condition": {"test": "datum.group == 'none'", "value": 81}, "value": 100}}},
  {"data": {"name": "summ"}, "transform": [{"filter": "datum.panel == 8"}], "mark": {"type": "tick", "size": 80, "thickness": 2, "color": "black"}, "encoding": {"x": {"field": "group", "type": "nominal", "axis": {"title": "CD14ˡᵒʷCD15ⁱⁿᵗ"}}, "y": {"field": "mean", "type": "quantitative", "axis": {"title": "%CD11b⁺ cells", "values": [0, 20, 40, 60, 80, 100]}}}},
  {"data": {"name": "summ"}, "transform": [{"filter": "datum.panel == 8 && isValid(datum.lo)"}], "mark": {"type": "rule", "strokeWidth": 2, "color": "black"}, "encoding": {"x": {"field": "group", "type": "nominal", "axis": {"title": "CD14ˡᵒʷCD15ⁱⁿᵗ"}}, "y": {"field": "lo", "type": "quantitative", "axis": {"title": "%CD11b⁺ cells", "values": [0, 20, 40, 60, 80, 100]}}, "y2": {"field": "hi"}}},
  {"data": {"name": "summ"}, "transform": [{"filter": "datum.panel == 8 && isValid(datum.lo)"}], "mark": {"type": "tick", "size": 40, "thickness": 2, "color": "black"}, "encoding": {"x": {"field": "group", "type": "nominal", "axis": {"title": "CD14ˡᵒʷCD15ⁱⁿᵗ"}}, "y": {"field": "lo", "type": "quantitative", "axis": {"title": "%CD11b⁺ cells", "values": [0, 20, 40, 60, 80, 100]}}}},
  {"data": {"name": "summ"}, "transform": [{"filter": "datum.panel == 8 && isValid(datum.lo)"}], "mark": {"type": "tick", "size": 40, "thickness": 2, "color": "black"}, "encoding": {"x": {"field": "group", "type": "nominal", "axis": {"title": "CD14ˡᵒʷCD15ⁱⁿᵗ"}}, "y": {"field": "hi", "type": "quantitative", "axis": {"title": "%CD11b⁺ cells", "values": [0, 20, 40, 60, 80, 100]}}}}
 ]}
], "spacing": 46}
]}
]}
]
}
